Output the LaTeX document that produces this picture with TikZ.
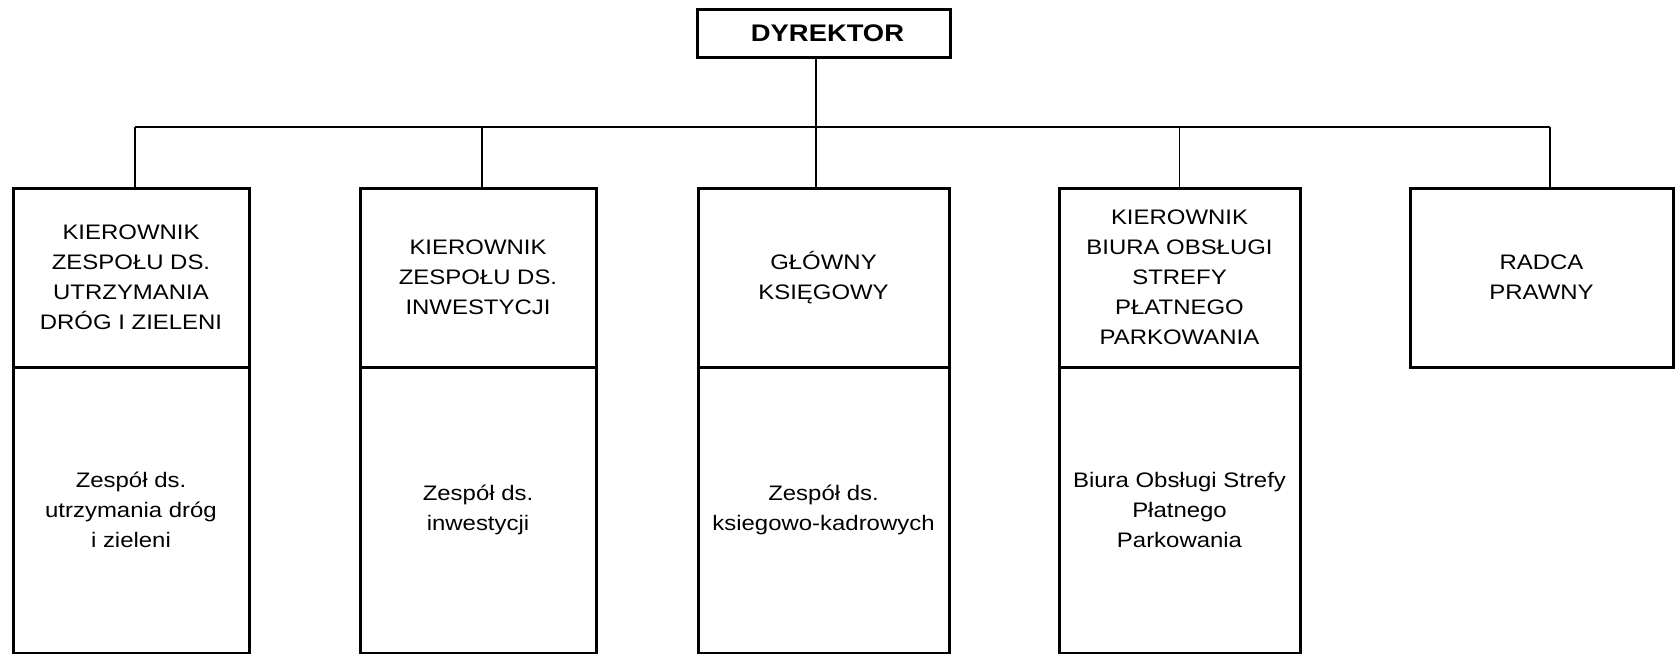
\documentclass[tikz,border=0pt]{standalone}
\usepackage{fontspec}
\setmainfont{Liberation Sans}[FakeStretch=1.14]
\begin{document}
\begin{tikzpicture}[x=1pt,y=-1pt,
  box/.style={draw, line width=3pt, inner sep=0pt, outer sep=0pt, align=center,
    font=\fontsize{21}{30}\selectfont},
  conn/.style={line width=1.2pt}]
\useasboundingbox (0,0) rectangle (1675,653);
% director
\node[box, minimum width=253pt, minimum height=48pt,
  font=\fontsize{24}{30}\selectfont\bfseries] (dir) at (823.5,33) {\hspace{8pt}DYREKTOR};
% upper boxes
\node[box, minimum width=236pt, minimum height=179pt] (k1) at (131,277.5)
  {KIEROWNIK\\ZESPOŁU DS.\\UTRZYMANIA\\DRÓG I ZIELENI};
\node[box, minimum width=236pt, minimum height=179pt] (k2) at (478,277.5)
  {KIEROWNIK\\ZESPOŁU DS.\\INWESTYCJI};
\node[box, minimum width=251pt, minimum height=179pt] (k3) at (823.5,277.5)
  {GŁÓWNY\\KSIĘGOWY};
\node[box, minimum width=241pt, minimum height=179pt] (k4) at (1179.5,277.5)
  {KIEROWNIK\\BIURA OBSŁUGI\\STREFY\\PŁATNEGO\\PARKOWANIA};
\node[box, minimum width=263pt, minimum height=179pt] (k5) at (1541.5,277.5)
  {RADCA\\PRAWNY};
% lower boxes
\node[box, anchor=north, minimum width=236pt, minimum height=286pt] (z1) at (k1.south)
  {Zespół ds.\\utrzymania dróg\\i zieleni};
\node[box, anchor=north, minimum width=236pt, minimum height=286pt] (z2) at (k2.south)
  {Zespół ds.\\inwestycji};
\node[box, anchor=north, minimum width=251pt, minimum height=286pt] (z3) at (k3.south)
  {Zespół ds.\\ksiegowo-kadrowych};
\node[box, anchor=north, minimum width=241pt, minimum height=286pt] (z4) at (k4.south)
  {Biura Obsługi Strefy\\Płatnego\\Parkowania};
% connectors
\coordinate (busL) at (135,127);
\coordinate (busR) at (1550,127);
\draw[conn] ([xshift=-7.5pt]dir.south) -- ([xshift=-7.5pt]k3.north);
\draw[conn] (busL) -- (busR);
\draw[conn] (busL) -- (busL |- k1.north);
\draw[conn] ([xshift=4pt]k2.north) -- ([xshift=4pt]k2.north |- busL);
\draw[conn] (k4.north) -- (k4.north |- busL);
\draw[conn] (busR) -- ([yshift=-2pt]busR |- k5.north);
\end{tikzpicture}
\end{document}
